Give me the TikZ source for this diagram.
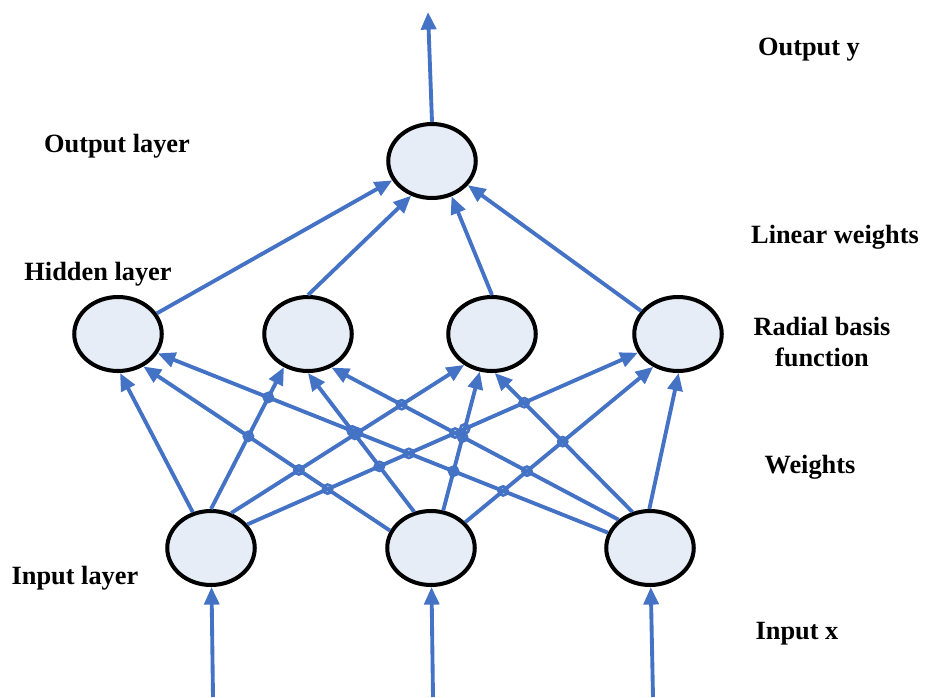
\documentclass[tikz,border=0pt]{standalone}
\usepackage{fontspec}
\setmainfont{Liberation Serif}
\usetikzlibrary{shapes.geometric,arrows.meta,intersections}
\definecolor{linkblue}{HTML}{4472C4}
\definecolor{cellfill}{HTML}{E7EDF7}
\tikzset{
  neuron/.style={ellipse,draw=black,line width=2.3pt,fill=cellfill,
    minimum width=1.75cm,minimum height=1.48cm,inner sep=0pt},
  link/.style={draw=linkblue,line width=2.2pt,-{Triangle[length=10pt,width=8.5pt]}},
  hop/.style={draw=linkblue,line width=1.5pt},
  lbl/.style={font=\fontsize{15}{18}\selectfont\bfseries,align=center}
}

\begin{document}
\begin{tikzpicture}[x=0.02cm,y=-0.02cm]
\useasboundingbox (0,0) rectangle (933,697);

% neurons
\node[neuron] (out) at (432,161) {};
\foreach \x [count=\j] in {118,308,492,678}
  \node[neuron] (h\j) at (\x,334) {};
\foreach \x [count=\i] in {211,431,650}
  \node[neuron] (in\i) at (\x,548) {};

% free ends
\coordinate (yend) at (428,12);
\foreach \x [count=\i] in {213,433,653}
  \coordinate (xend\i) at (\x,697);

% input x and output y
\foreach \i in {1,2,3}
  \draw[link] (xend\i) -- (in\i);
\draw[link] (out.north) -- (yend);

% radial basis weights
\foreach \i/\j/\a/\b in {1/1/117/-87,1/2/90/-126,1/3/60/-132,1/4/33/-155,
    2/1/157/-52,2/2/115/-90,2/3/72/-108,2/4/37/-127,
    3/1/160/-26,3/2/138/-55,3/3/116/-86,3/4/91/-89}
  \draw[link,name path global=e\i\j] (in\i.\a) -- (h\j.\b);

% line jumps
\foreach \ia/\ib in {1/2,1/3,2/3}
  \foreach \ja/\jb in {2/1,3/1,4/1,3/2,4/2,4/3}{
    \edef\pp{e\ia\ja\space and e\ib\jb}
    \path[name intersections/.expanded={of=\pp,by=cx}];
    \draw[hop] (cx) circle (2.6pt);
  }

% linear weights
\foreach \j/\a/\b in {1/28/-154,2/90/-121,3/90/-61,4/148/-34}
  \draw[link] (h\j.\a) -- (out.\b);

% labels
\node[lbl] (ly) at (809,50) {Output y};
\node[lbl] (lout) at (117,146) {Output layer};
\node[lbl] (llin) at (835,237) {Linear weights};
\node[lbl] (lhid) at (98,274) {Hidden layer};
\node[lbl] (lrbf) at (822,342) {Radial basis\\function};
\node[lbl] (lw) at (810,467) {Weights};
\node[lbl] (lin) at (75,578) {Input layer};
\node[lbl] (lx) at (797,634) {Input x};
\end{tikzpicture}
\end{document}
